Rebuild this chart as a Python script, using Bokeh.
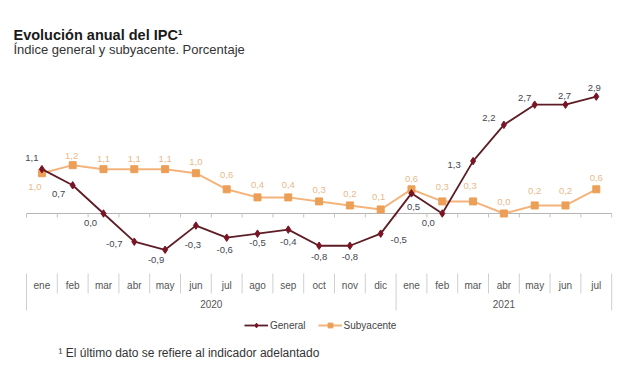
from bokeh.plotting import figure
from bokeh.models import Range1d, Label, Legend, LegendItem, ColumnDataSource
from bokeh.core.properties import value
from bokeh.embed import file_html
from bokeh.resources import INLINE

# ---------------- data ----------------
months = ["ene", "feb", "mar", "abr", "may", "jun", "jul", "ago", "sep", "oct",
          "nov", "dic", "ene", "feb", "mar", "abr", "may", "jun", "jul"]
years = ["2020", "2021"]
months_per_year = [12, 7]
general = [1.1, 0.7, 0.0, -0.7, -0.9, -0.3, -0.6, -0.5, -0.4, -0.8,
           -0.8, -0.5, 0.5, 0.0, 1.3, 2.2, 2.7, 2.7, 2.9]
subyacente = [1.0, 1.2, 1.1, 1.1, 1.1, 1.0, 0.6, 0.4, 0.4, 0.3,
              0.2, 0.1, 0.6, 0.3, 0.3, 0.0, 0.2, 0.2, 0.6]

# label offsets (screen px) for the data labels
gen_dx = [-10, -14, -13, -20, -9, -3, -2, 0, 0, 0, 0, 18, 2, -14, -19, -15, -10, -1, -2]
gen_dy = [-11, 9, 10, 2, 10, 19, 12, 9, 12, 11, 11, 6, 14, 10, 4, -7, -7, -9, -9]
sub_dx = [-7, -1, 0, 0, 0, 0, 0, 0, 0, 0, 0, -2, 0, 0, -3, 0, 0, 0, 0]
sub_dy = [14, -9, -10, -10, -10, -11, -14, -12, -12, -11, -11, -12, -10, -14, -15, -11, -14, -14, -11]

FONT = "Liberation Sans"
W, H = 624, 384
n = len(months)
xs = list(range(n))

p = figure(width=W, height=H, x_range=Range1d(-1.344, 18.916),
           y_range=Range1d(-4.243, 5.285), output_backend="svg",
           toolbar_location=None, x_axis_location=None, y_axis_location=None,
           min_border=0, min_border_left=0, min_border_right=0,
           min_border_top=0, min_border_bottom=0, title=None)
p.outline_line_color = None
p.xgrid.visible = False
p.ygrid.visible = False
p.background_fill_color = "white"
p.extra_y_ranges = {"px": Range1d(start=H, end=0)}

# ---------------- category axis (table-like) ----------------
year_bounds = [0]
for c in months_per_year:
    year_bounds.append(year_bounds[-1] + c)
sep_x = [k - 0.5 for k in range(n + 1)]
sep_y1 = [310 if k in year_bounds else 293 for k in range(n + 1)]
p.segment(x0=sep_x, y0=[273] * (n + 1), x1=sep_x, y1=sep_y1, y_range_name="px",
          line_color="#cfcfcf", line_width=1)

# zero line with small ticks
p.segment(x0=[-0.5], y0=[0], x1=[n - 0.5], y1=[0], line_color="#b5b5b5", line_width=1)
p.segment(x0=sep_x, y0=[213] * (n + 1), x1=sep_x, y1=[217] * (n + 1), y_range_name="px",
          line_color="#c4c4c4", line_width=1)

p.text(x=xs, y=[285] * n, text=months, y_range_name="px", text_align="center",
       text_baseline="middle", text_font=value(FONT), text_font_size="10px",
       text_color="#555555")
year_x = [year_bounds[i] + (months_per_year[i] - 1) / 2 for i in range(len(years))]
p.text(x=year_x, y=[303] * len(years), text=years, y_range_name="px",
       text_align="center", text_baseline="middle", text_font=value(FONT),
       text_font_size="10px", text_color="#555555")

# ---------------- series ----------------
SUB_LINE = "#f3b47c"
SUB_MARK = "#ec9f57"
GEN_LINE = "#5e1d26"
GEN_MARK = "#7a1424"

sl = p.line(xs, subyacente, line_color=SUB_LINE, line_width=2)
ss = p.scatter(xs, subyacente, marker="square", size=7, fill_color=SUB_MARK,
               line_color=SUB_MARK)
gl = p.line(xs, general, line_color=GEN_LINE, line_width=1.8)
gs = p.scatter(xs, general, marker="diamond", size=7.5, fill_color=GEN_MARK,
               line_color=GEN_MARK)

fmt = lambda v: f"{v:.1f}".replace(".", ",")
src_s = ColumnDataSource(dict(x=xs, y=subyacente, t=[fmt(v) for v in subyacente],
                              dx=sub_dx, dy=sub_dy))
src_g = ColumnDataSource(dict(x=xs, y=general, t=[fmt(v) for v in general],
                              dx=gen_dx, dy=gen_dy))
p.text(x="x", y="y", text="t", x_offset="dx", y_offset="dy", source=src_s,
       text_align="center", text_baseline="middle", text_font=value(FONT),
       text_font_size="9.5px", text_color="#e9b98a")
p.text(x="x", y="y", text="t", x_offset="dx", y_offset="dy", source=src_g,
       text_align="center", text_baseline="middle", text_font=value(FONT),
       text_font_size="9.5px", text_color="#454550")

# ---------------- legend ----------------
legend = Legend(items=[LegendItem(label="General", renderers=[gl, gs]),
                       LegendItem(label="Subyacente", renderers=[sl, ss])],
                orientation="horizontal", location=(244, 53),
                border_line_color=None, background_fill_alpha=0,
                padding=0, margin=0, spacing=12, glyph_width=24, glyph_height=12,
                label_standoff=2, label_text_font_size="10px",
                label_text_font=FONT, label_text_color="#444444",
                label_height=12)
p.add_layout(legend)

# ---------------- titles & footnote ----------------
p.add_layout(Label(x=13, y=H - 34, x_units="screen", y_units="screen",
                   text="Evolución anual del IPC¹", text_font=FONT,
                   text_font_size="14.5px", text_font_style="bold",
                   text_baseline="middle", text_color="#1a1a1a"))
p.add_layout(Label(x=13, y=H - 49, x_units="screen", y_units="screen",
                   text="Índice general y subyacente. Porcentaje", text_font=FONT,
                   text_font_size="13px", text_baseline="middle",
                   text_color="#333333"))
p.add_layout(Label(x=58, y=H - 352, x_units="screen", y_units="screen",
                   text="¹ El último dato se refiere al indicador adelantado",
                   text_font=FONT, text_font_size="12px", text_baseline="middle",
                   text_color="#333333"))

open("out.html", "w").write(file_html(p, INLINE))
